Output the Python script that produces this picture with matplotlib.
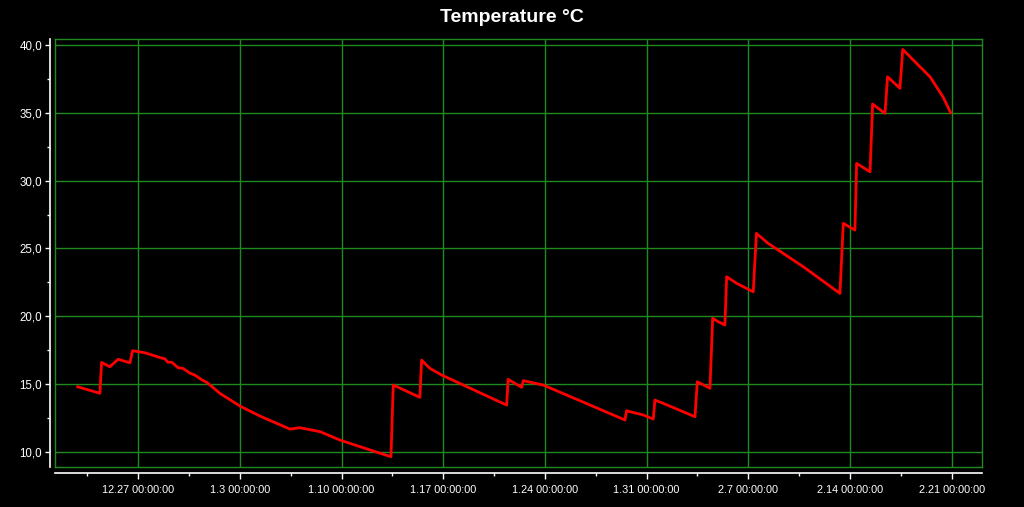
"""Temperature log chart, black background with green grid."""

import pandas as pd
import matplotlib
matplotlib.use('Agg')
import matplotlib.pyplot as plt
import matplotlib.dates as mdates
from matplotlib.ticker import FuncFormatter, MultipleLocator

# Data
times = [
    "2010-12-22 20:00", "2010-12-24 08:40", "2010-12-24 11:30", "2010-12-25 01:10",
    "2010-12-25 14:50", "2010-12-26 10:20", "2010-12-26 14:40", "2010-12-27 11:00",
    "2010-12-28 11:45", "2010-12-28 20:10", "2010-12-29 01:00", "2010-12-29 07:40",
    "2010-12-29 17:35", "2010-12-30 01:55", "2010-12-30 13:25", "2010-12-30 21:40",
    "2010-12-31 09:20", "2010-12-31 17:45", "2011-01-01 14:50",
    "2011-01-03 00:00", "2011-01-04 09:10", "2011-01-06 10:35", "2011-01-07 03:10",
    "2011-01-08 12:15", "2011-01-09 21:20", "2011-01-11 06:30", "2011-01-13 09:35",
    "2011-01-13 13:25", "2011-01-15 09:20", "2011-01-15 12:15", "2011-01-16 01:55",
    "2011-01-16 21:20", "2011-01-21 08:40", "2011-01-21 11:15", "2011-01-22 09:35",
    "2011-01-22 12:15", "2011-01-23 21:10", "2011-01-29 12:15", "2011-01-29 14:50",
    "2011-01-30 18:30", "2011-01-31 11:00", "2011-01-31 13:40", "2011-02-01 03:20",
    "2011-02-03 07:55", "2011-02-03 11:45", "2011-02-04 08:40", "2011-02-04 13:10",
    "2011-02-04 22:20", "2011-02-05 09:20", "2011-02-05 12:15", "2011-02-06 04:50",
    "2011-02-07 08:10", "2011-02-07 13:25", "2011-02-08 08:50", "2011-02-10 18:45",
    "2011-02-13 07:25", "2011-02-13 13:00", "2011-02-14 08:10", "2011-02-14 11:00",
    "2011-02-15 09:10", "2011-02-15 13:25", "2011-02-16 09:50", "2011-02-16 14:10",
    "2011-02-17 10:35", "2011-02-17 15:10", "2011-02-18 08:40", "2011-02-19 12:15",
    "2011-02-20 10:05", "2011-02-20 22:20",
]
temps = [
    14.79, 14.31, 16.59, 16.27, 16.82, 16.56, 17.45, 17.30,
    16.95, 16.85, 16.60, 16.60, 16.20, 16.15, 15.80, 15.65,
    15.30, 15.10, 14.31,
    13.37, 12.63, 11.67, 11.77,
    11.48, 10.86, 10.37, 9.63, 14.92, 14.01, 16.76, 16.15,
    15.66, 13.44, 15.34, 14.75, 15.24, 14.92, 12.34, 13.02,
    12.71, 12.41, 13.81, 13.57, 12.58, 15.16, 14.68, 19.84,
    19.59, 19.35, 22.91, 22.42, 21.80, 26.11, 25.37, 23.65,
    21.68, 26.85, 26.35, 31.27, 30.65, 35.65, 34.96, 37.66,
    36.81, 39.68, 38.89, 37.66, 36.15, 35.01,
]
title = "Temperature °C"
x_start, x_end = "2010-12-21 06:30", "2011-02-23 01:40"
y_start, y_end = 8.85, 40.42
week_ticks = pd.date_range("2010-12-27", "2011-02-21", freq="7D")

GRID = '#1f8a1f'

plt.rcParams['font.family'] = ['Liberation Sans', 'DejaVu Sans']

times = pd.to_datetime(times)

fig = plt.figure(figsize=(10.24, 5.07), dpi=100, facecolor='black')
ax = fig.add_axes([0.0537, 0.0783, 0.905, 0.844], facecolor='black')

ax.plot(times, temps, color='#ff0000', lw=2.0, solid_joinstyle='round', zorder=3)

ax.set_xlim(pd.Timestamp(x_start), pd.Timestamp(x_end))
ax.set_ylim(y_start, y_end)

# Ticks
ax.set_xticks(week_ticks)
ax.xaxis.set_minor_locator(MultipleLocator(3.5, offset=mdates.date2num(week_ticks[0]) % 3.5))
ax.xaxis.set_major_formatter(FuncFormatter(
    lambda v, pos: "{}.{} 00:00:00".format(mdates.num2date(v).month, mdates.num2date(v).day)))
ax.yaxis.set_major_locator(MultipleLocator(5))
ax.yaxis.set_minor_locator(MultipleLocator(2.5))
ax.yaxis.set_major_formatter(FuncFormatter(lambda v, pos: f"{v:.1f}".replace('.', ',')))

ax.tick_params(axis='both', which='both', colors='white', direction='out')
ax.tick_params(axis='y', which='major', length=3.6, width=1, pad=2, labelsize=8.3)
ax.tick_params(axis='y', which='minor', length=2, width=1)
ax.tick_params(axis='x', which='major', length=4.3, width=1, pad=4, labelsize=7.8)
ax.tick_params(axis='x', which='minor', length=2.3, width=1)

# Grid and frame
ax.grid(True, which='major', color=GRID, lw=1)
ax.set_axisbelow(True)
for side in ('top', 'right'):
    ax.spines[side].set_color(GRID)
    ax.spines[side].set_linewidth(1)
for side in ('left', 'bottom'):
    ax.spines[side].set_color('white')
    ax.spines[side].set_linewidth(1.2)
ax.spines['left'].set_position(('outward', 3.6))
ax.spines['bottom'].set_position(('outward', 4.3))
ax.plot([0, 0], [0, 1], transform=ax.transAxes, color=GRID, lw=1, clip_on=False)
ax.plot([0, 1], [0, 0], transform=ax.transAxes, color=GRID, lw=1, clip_on=False)

fig.text(0.5, 0.965, title, ha='center', va='center', color='white',
         fontsize=14, fontweight='bold')

fig.savefig('out.png', dpi=100, facecolor='black')
